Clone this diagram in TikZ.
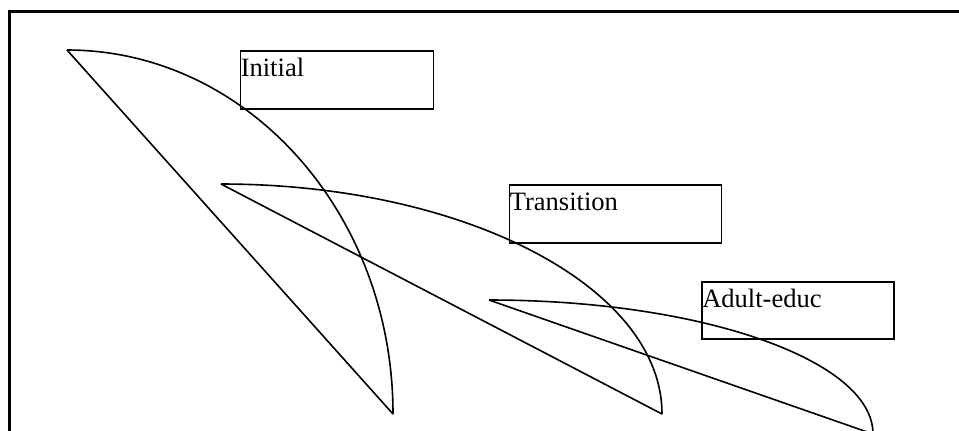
\documentclass[tikz,border=0pt]{standalone}
\usepackage{fontspec}
\setmainfont{Liberation Serif}
\begin{document}
\begin{tikzpicture}[x=0.75pt,y=-0.75pt,
  frameline/.style={line width=1.6pt},
  curve/.style={line width=1.2pt},
  stagebox/.style={draw,line width=1.2pt,rectangle,minimum width=144pt,minimum height=43pt,inner sep=0pt},
  stagetext/.style={anchor=base west,inner sep=0pt,font=\fontsize{19.9}{22}\selectfont}]
\useasboundingbox (0,0) rectangle (959,430);
\clip (0,0) rectangle (959,430);
\draw[frameline] (9.5,450) -- (9.5,11.5) -- (980,11.5);
% shape 1
\coordinate (a1) at (67,50);
\coordinate (b1) at (393,414);
\draw[curve] (a1) -- (b1);
\draw[curve] (a1) arc[start angle=90,end angle=0,x radius=244.5pt,y radius=273pt];
% shape 2
\coordinate (a2) at (221,184);
\coordinate (b2) at (662,414);
\draw[curve] (a2) -- (b2);
\draw[curve] (a2) arc[start angle=90,end angle=0,x radius=330.75pt,y radius=172.5pt];
% shape 3
\coordinate (a3) at (489,300);
\coordinate (b3) at (873,434);
\draw[curve] (a3) -- (b3);
\draw[curve] (a3) arc[start angle=90,end angle=0,x radius=288pt,y radius=100.5pt];
% boxes
\node[stagebox,minimum width=144.75pt,minimum height=43.5pt,anchor=north west] (initial) at (239.5,50) {};
\node[stagetext] (initialtxt) at (240.5,76) {Initial};
\node[stagebox,minimum width=159pt,minimum height=43.5pt,anchor=north west] (transition) at (508.5,184) {};
\node[stagetext] (transitiontxt) at (509.5,210) {Transition};
\node[stagebox,minimum width=144pt,minimum height=42.75pt,anchor=north west] (adult) at (701,281) {};
\node[stagetext] (adulttxt) at (702,307) {Adult-educ};
\end{tikzpicture}
\end{document}
